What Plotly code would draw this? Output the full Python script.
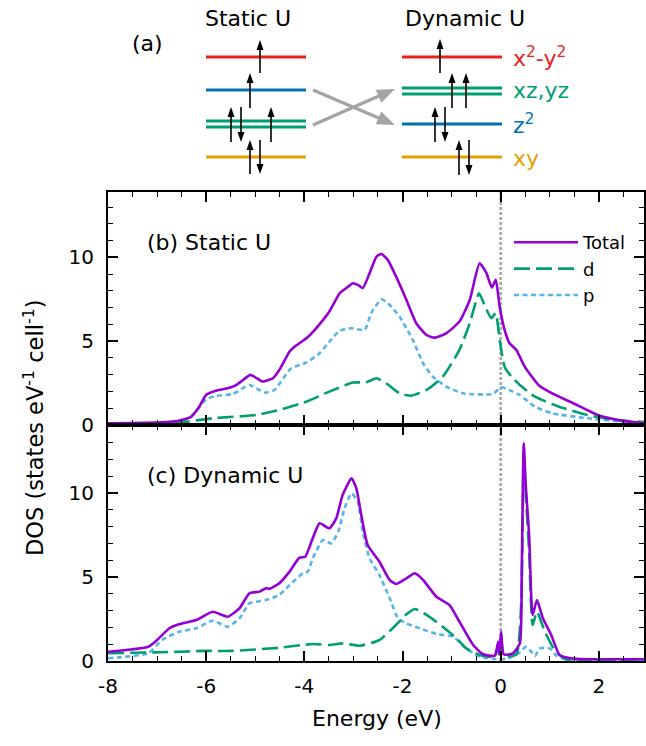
import math
import plotly.graph_objects as go

W, H = 646, 746

# ---------------- data ----------------
series_names = ["Total", "d", "p"]

# (b) Static U
e_b_total = [-8.0, -7.5, -7.0, -6.7, -6.5, -6.3, -6.14, -6.0, -5.8, -5.56, -5.42, -5.29, -5.10, -4.97,
             -4.85, -4.64, -4.51, -4.30, -4.20, -3.96, -3.76, -3.49, -3.28, -3.15, -3.01, -2.91, -2.81,
             -2.67, -2.53, -2.43, -2.30, -2.13, -1.92, -1.72, -1.51, -1.35, -1.11, -0.84, -0.63, -0.43,
             -0.29, -0.18, -0.10, -0.02, 0.08, 0.18, 0.32, 0.49, 0.77, 1.05, 1.48, 1.98, 2.47, 2.92]
dos_b_total = [0.1, 0.12, 0.15, 0.2, 0.3, 0.5, 1.1, 1.8, 2.05, 2.19, 2.33, 2.59, 2.99, 2.79,
               2.59, 2.79, 3.28, 4.38, 4.67, 5.17, 5.77, 6.77, 7.86, 8.16, 8.46, 8.36, 8.16,
               9.06, 10.05, 10.2, 9.85, 8.85, 7.46, 6.07, 5.37, 5.21, 5.47, 6.17, 7.46, 9.65,
               9.06, 8.2, 8.66, 7.06, 5.67, 4.88, 4.48, 3.48, 2.39, 1.89, 1.30, 0.6, 0.26, 0.1]

e_b_d = [-8.0, -7.0, -6.54, -5.87, -4.98, -4.51, -3.96, -3.49, -3.01, -2.74, -2.53, -2.33, -2.06,
         -1.82, -1.51, -1.18, -0.84, -0.63, -0.44, -0.33, -0.19, -0.10, -0.02, 0.08, 0.22, 0.39,
         0.70, 1.19, 1.76, 2.33, 2.92]
dos_b_d = [0.05, 0.08, 0.14, 0.4, 0.6, 0.9, 1.39, 1.99, 2.53, 2.55, 2.79, 2.49, 1.89,
           1.75, 2.09, 2.88, 4.48, 6.07, 7.86, 7.16, 6.37, 6.67, 5.07, 3.48, 2.88, 2.39,
           1.69, 1.09, 0.6, 0.3, 0.18]

e_b_p = [-8.0, -7.0, -6.54, -6.24, -6.0, -5.80, -5.46, -5.12, -4.98, -4.81, -4.61, -4.27, -3.96,
         -3.69, -3.49, -3.28, -3.04, -2.77, -2.64, -2.43, -2.26, -2.06, -1.79, -1.58, -1.38, -1.11,
         -0.77, -0.16, 0.01, 0.25, 0.39, 0.70, 1.05, 1.76, 2.47, 2.92]
dos_b_p = [0.05, 0.08, 0.14, 0.7, 1.53, 1.73, 1.85, 2.39, 2.19, 1.93, 2.09, 3.38, 3.72,
           4.28, 4.97, 5.63, 5.77, 5.67, 6.67, 7.5, 7.16, 6.47, 5.07, 3.68, 2.88, 2.29,
           1.89, 1.85, 2.25, 1.99, 1.79, 1.09, 0.7, 0.4, 0.2, 0.1]

# (c) Dynamic U
e_c_total = [-8.0, -7.18, -7.0, -6.75, -6.54, -6.20, -5.87, -5.56, -5.32, -5.12, -4.91, -4.78, -4.71,
             -4.51, -4.30, -4.10, -3.98, -3.83, -3.69, -3.49, -3.35, -3.22, -3.04, -2.94, -2.84, -2.71,
             -2.47, -2.26, -2.13, -1.92, -1.75, -1.58, -1.31, -1.04, -0.84, -0.56, -0.36, -0.12, -0.05,
             -0.03, 0.01, 0.06, 0.25, 0.39, 0.43, 0.47, 0.51, 0.58, 0.65, 0.74, 0.86, 1.03, 1.20, 1.47,
             2.0, 2.92]
dos_c_total = [0.55, 0.85, 1.25, 1.95, 2.2, 2.44, 2.93, 2.64, 3.14, 4.03, 4.13, 4.33, 4.29,
               4.63, 5.32, 6.15, 6.21, 7.3, 8.2, 7.9, 8.49, 9.88, 10.87, 10.28, 8.69, 6.90,
               5.91, 4.82, 4.58, 4.92, 5.22, 4.82, 3.83, 3.33, 2.34, 0.95, 0.40, 0.32, 1.15,
               0.4, 1.75, 0.4, 0.45, 1.05, 5.52, 12.96, 10.48, 7.5, 2.74, 3.63, 2.54, 1.55, 0.36, 0.15,
               0.1, 0.1]

e_c_d = [-8.0, -6.54, -6.04, -5.49, -4.51, -3.83, -3.49, -3.22, -2.87, -2.47, -2.20, -1.92, -1.75,
         -1.51, -1.18, -0.90, -0.70, -0.43, -0.12, -0.05, -0.03, 0.01, 0.06, 0.32, 0.42, 0.47,
         0.52, 0.58, 0.65, 0.74, 0.90, 1.10, 1.33, 2.92]
dos_c_d = [0.46, 0.55, 0.6, 0.6, 0.79, 1.01, 0.95, 1.05, 0.91, 1.25, 1.95, 2.78, 3.1,
           2.74, 2.04, 1.35, 0.75, 0.36, 0.25, 0.95, 0.3, 1.5, 0.3, 0.4, 3.53, 12.3,
           9.5, 6.5, 2.14, 2.93, 1.75, 0.65, 0.1, 0.05]

e_c_p = [-8.0, -7.18, -6.9, -6.54, -6.20, -5.87, -5.56, -5.32, -5.12, -4.78, -4.51, -4.30, -4.03,
         -3.93, -3.83, -3.62, -3.45, -3.31, -3.18, -3.04, -2.91, -2.81, -2.67, -2.47, -2.26, -2.09,
         -1.92, -1.65, -1.31, -0.97, -0.70, -0.43, -0.09, 0.15, 0.39, 0.51, 0.61, 0.70, 0.80, 1.00,
         1.14, 1.33, 2.92]
dos_c_p = [0.16, 0.46, 1.25, 1.75, 1.95, 2.4, 2.04, 2.54, 3.43, 3.63, 3.93, 4.52, 5.22,
           5.32, 6.11, 7.2, 7.0, 7.7, 9.09, 9.98, 9.48, 7.7, 6.11, 5.12, 3.73, 2.54,
           2.24, 1.95, 1.61, 1.45, 0.75, 0.26, 0.1, 0.15, 0.5, 0.85, 0.6, 0.3, 0.75, 0.75,
           0.3, 0.1, 0.05]

x_tick_vals = [-8, -6, -4, -2, 0, 2]
x_tick_text = ["-8", "-6", "-4", "-2", "0", "2"]
y_tick_vals = [0, 5, 10]
y_tick_text = ["0", "5", "10"]
fermi_energy = [0]

# ---------------- styles ----------------
FONT = "DejaVu Sans"
C_TOTAL, C_D, C_P = "#9400D3", "#009E73", "#56B4E9"
C_RED, C_GREEN, C_BLUE, C_ORANGE = "#E8221B", "#009E73", "#0072B2", "#E69F00"
C_GREY_ARROW = "#A3A3A8"
line_styles = {
    "Total": dict(color=C_TOTAL, width=2.6, dash="solid"),
    "d": dict(color=C_D, width=2.6, dash="16px,6px"),
    "p": dict(color=C_P, width=2.6, dash="5px,3.5px"),
}
legend_rank = {"Total": 1, "d": 2, "p": 3}


def px(x):
    return x / W


def py(y):
    return 1 - y / H


fig = go.Figure()

panels = [
    ("x", "y", [(e_b_total, dos_b_total), (e_b_d, dos_b_d), (e_b_p, dos_b_p)], True),
    ("x2", "y2", [(e_c_total, dos_c_total), (e_c_d, dos_c_d), (e_c_p, dos_c_p)], False),
]
for xa, ya, series, show in panels:
    # draw p first, then d, then Total on top
    for name, (ex, dv) in reversed(list(zip(series_names, series))):
        fig.add_trace(go.Scatter(
            x=ex, y=dv, mode="lines", name=name, xaxis=xa, yaxis=ya,
            line=dict(shape="spline", smoothing=0.5, **line_styles[name]),
            showlegend=show, legendrank=legend_rank[name], hoverinfo="skip"))

XL, XR = 108, 644
YB_TOP, YB_BOT, YC_BOT = 192, 425, 661

axis_common = dict(
    showgrid=False, zeroline=False, showline=True, linecolor="black", linewidth=2,
    mirror="allticks", ticks="inside", ticklen=10, tickwidth=1.6, tickcolor="black",
    tickfont=dict(family=FONT, size=20, color="black"), automargin=False,
)
x_common = dict(axis_common, range=[-8, 2.92], domain=[px(XL), px(XR)],
                tickmode="array", tickvals=x_tick_vals, ticktext=x_tick_text,
                minor=dict(tickmode="linear", tick0=0, dtick=0.5, ticks="inside",
                           ticklen=5, tickwidth=1.4, tickcolor="black"))
y_common = dict(axis_common, tickmode="array", tickvals=y_tick_vals, ticktext=y_tick_text,
                ticklabelstandoff=8,
                minor=dict(tickmode="linear", tick0=0, dtick=1, ticks="inside",
                           ticklen=5, tickwidth=1.4, tickcolor="black"))

fig.update_layout(
    width=W, height=H, autosize=False,
    margin=dict(l=0, r=0, t=0, b=0, pad=0),
    paper_bgcolor="white", plot_bgcolor="white",
    font=dict(family=FONT, color="black"),
    xaxis=dict(x_common, anchor="y", showticklabels=False),
    yaxis=dict(y_common, anchor="x", range=[0, 13.9], domain=[py(YB_BOT), py(YB_TOP)]),
    xaxis2=dict(x_common, anchor="y2", ticklabelstandoff=6),
    yaxis2=dict(y_common, anchor="x2", range=[0, 14.05], domain=[py(YC_BOT), py(YB_BOT)]),
    legend=dict(x=px(509), y=py(224), xanchor="left", yanchor="top",
                bgcolor="rgba(0,0,0,0)", font=dict(family=FONT, size=18, color="black"),
                itemwidth=64, tracegroupgap=0, traceorder="normal"),
)

shapes = []
annotations = []

# Fermi level
for xa, ya in [("x", "y"), ("x2", "y2")]:
    for ef in fermi_energy:
        shapes.append(dict(type="line", xref=xa, yref=ya + " domain", x0=ef, x1=ef, y0=0, y1=1,
                           line=dict(color="#A8A8A8", width=2.6, dash="3px,2px"), layer="below"))

# Panel labels and axis titles
annotations += [
    dict(text="(b) Static U", x=px(145), y=py(242), xref="paper", yref="paper",
         xanchor="left", yanchor="middle", showarrow=False, font=dict(size=22)),
    dict(text="(c) Dynamic U", x=px(145), y=py(475), xref="paper", yref="paper",
         xanchor="left", yanchor="middle", showarrow=False, font=dict(size=22)),
    dict(text="Energy (eV)", x=px(377), y=py(718), xref="paper", yref="paper",
         xanchor="center", yanchor="middle", showarrow=False, font=dict(size=22)),
    dict(text="DOS (states eV<sup>-1</sup> cell<sup>-1</sup>)", x=px(33), y=py(428),
         xref="paper", yref="paper", xanchor="center", yanchor="middle", textangle=-90,
         showarrow=False, font=dict(size=22.5)),
]

# ---------------- (a) level diagram ----------------
annotations += [
    dict(text="Static U", x=px(248), y=py(18), xref="paper", yref="paper", showarrow=False,
         xanchor="center", yanchor="middle", font=dict(size=22)),
    dict(text="Dynamic U", x=px(465), y=py(18), xref="paper", yref="paper", showarrow=False,
         xanchor="center", yanchor="middle", font=dict(size=22)),
    dict(text="(a)", x=px(147), y=py(43), xref="paper", yref="paper", showarrow=False,
         xanchor="center", yanchor="middle", font=dict(size=22)),
]

static_levels = [(57, C_RED), (90, C_BLUE), (121, C_GREEN), (127, C_GREEN), (157, C_ORANGE)]
dynamic_levels = [(57, C_RED), (88, C_GREEN), (94, C_GREEN), (124, C_BLUE), (157, C_ORANGE)]
for (x0, x1), levels in [((206, 306), static_levels), ((402, 502), dynamic_levels)]:
    for yl, col in levels:
        shapes.append(dict(type="line", xref="paper", yref="paper", x0=px(x0), x1=px(x1),
                           y0=py(yl), y1=py(yl), line=dict(color=col, width=3)))

orbital_labels = [("x<sup>2</sup>-y<sup>2</sup>", 57, C_RED), ("xz,yz", 91, C_GREEN),
                  ("z<sup>2</sup>", 124, C_BLUE), ("xy", 158, C_ORANGE)]
for txt, yl, col in orbital_labels:
    annotations.append(dict(text=txt, x=px(511), y=py(yl), xref="paper", yref="paper",
                            showarrow=False, xanchor="left", yanchor="middle",
                            font=dict(size=22, color=col)))


def arrow_shapes(xt, yt, xh, yh, color, lw, head_len, head_w):
    """Shaft line plus filled triangular head, in pixel units converted to paper."""
    dx, dy = xh - xt, yh - yt
    L = math.hypot(dx, dy)
    ux, uy = dx / L, dy / L
    bx, by = xh - ux * head_len, yh - uy * head_len
    nx, ny = -uy, ux
    sx, sy = bx + ux * 1.0, by + uy * 1.0
    out = [dict(type="line", xref="paper", yref="paper", x0=px(xt), y0=py(yt),
                x1=px(sx), y1=py(sy), line=dict(color=color, width=lw))]
    p1 = (bx + nx * head_w / 2, by + ny * head_w / 2)
    p2 = (bx - nx * head_w / 2, by - ny * head_w / 2)
    path = "M {:.5f},{:.5f} L {:.5f},{:.5f} L {:.5f},{:.5f} Z".format(
        px(xh), py(yh), px(p1[0]), py(p1[1]), px(p2[0]), py(p2[1]))
    out.append(dict(type="path", xref="paper", yref="paper", path=path,
                    fillcolor=color, line=dict(width=0)))
    return out


spin_arrows = [
    # static: (x, y_tail, y_head)
    (260, 73, 40), (250, 108, 73), (231, 142, 107), (241, 107, 142), (271, 142, 107),
    (250, 174, 140), (260, 140, 174),
    # dynamic
    (440, 73, 39), (452, 108, 73), (466, 108, 73), (435, 142, 107), (445, 107, 142),
    (459, 175, 140), (469, 140, 175),
]
for x, yt, yh in spin_arrows:
    shapes += arrow_shapes(x, yt, x, yh, "black", 1.6, 10, 7)

shapes += arrow_shapes(313, 90, 395, 125, C_GREY_ARROW, 3.3, 18, 14)
shapes += arrow_shapes(313, 125, 395, 89, C_GREY_ARROW, 3.3, 18, 14)

fig.update_layout(shapes=shapes, annotations=annotations)
fig.write_html(
    "out.html",
    config={"responsive": False, "displayModeBar": False},
    post_script="document.body.style.margin='0';document.body.style.overflow='hidden';",
)
